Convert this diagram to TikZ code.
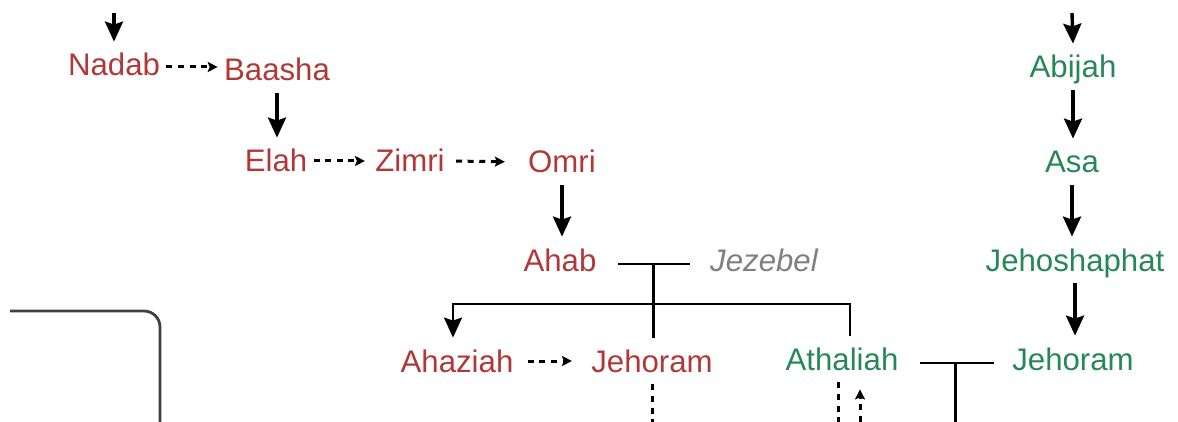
\documentclass[tikz,border=0pt]{standalone}
\usepackage{fontspec}
\setmainfont{Liberation Sans}
\usetikzlibrary{arrows.meta}
\definecolor{israelred}{RGB}{178,56,56}
\definecolor{judahgreen}{RGB}{38,136,88}
\definecolor{wifegray}{RGB}{128,128,128}
\tikzset{every picture/.style={>={Stealth[length=10pt,width=9pt,inset=1.5pt]}},
  king/.style={font=\fontsize{15.6}{18}\selectfont, text height=11pt, text depth=0pt, inner xsep=3pt, inner ysep=6pt},
  israel/.style={king, text=israelred},
  judah/.style={king, text=judahgreen},
  wife/.style={king, text=wifegray, font=\fontsize{15.6}{18}\selectfont\itshape},
  succ/.style={line width=1.7pt, ->},
  bond/.style={line width=1.3pt},
  dashline/.style={line width=1.5pt, dash pattern=on 3pt off 2.8pt},
  usurp/.style={dashline, -{Stealth[length=5pt,width=5pt,inset=1pt]}},
  boxedge/.style={line width=1.4pt, draw=black!75, rounded corners=8pt}}

\begin{document}
\begin{tikzpicture}[x=0.5pt,y=-0.5pt]
  \useasboundingbox (0,0) rectangle (1178,422);
  \coordinate (cut) at (0,422);
  \coordinate (topl) at (114,13);
  \coordinate (topr) at (1072,13);
  \node[israel] (nadab) at (114,65) {Nadab};
  \node[israel] (baasha) at (277,70) {Baasha};
  \node[israel] (elah) at (276,161) {Elah};
  \node[israel] (zimri) at (410,161) {Zimri};
  \node[israel] (omri) at (562,162) {Omri};
  \node[israel] (ahab) at (560,260) {Ahab};
  \node[wife] (jezebel) at (764,260) {Jezebel};
  \node[israel] (ahaziah) at (457,361) {Ahaziah};
  \node[israel] (jehoramA) at (652,361) {Jehoram};
  \node[judah] (athaliah) at (842,359) {Athaliah};
  \node[judah] (abijah) at (1073,67) {Abijah};
  \node[judah] (asa) at (1072,162) {Asa};
  \node[judah] (jehoshaphat) at (1075,260) {Jehoshaphat};
  \node[judah] (jehoramJ) at (1073,359) {Jehoram};
  \draw[succ] (topl) -- (nadab.north);
  \draw[usurp] ([yshift=-1pt]nadab.east) -- ([yshift=-1pt]nadab.east -| baasha.west);
  \draw[succ] (baasha.south) -- (baasha.south |- elah.north);
  \draw[usurp, shorten >=2pt] (elah.east) -- (zimri.west);
  \draw[usurp, shorten <=2.5pt, shorten >=8.5pt] (zimri.east) -- (omri.west);
  \draw[succ] (omri.south) -- (omri.south |- ahab.north);
  \draw[bond, shorten <=7.5pt, shorten >=7pt] ([yshift=-2pt]ahab.east) -- coordinate (ahabjez) ([yshift=-2pt]jezebel.west);
  \draw[bond] (ahabjez) -- (ahabjez |- jehoramA.north);
  \draw[bond, ->] ([xshift=4pt]athaliah.north) |- ([yshift=-20pt]ahabjez) -| ([xshift=-2pt]ahaziah.north);
  \draw[usurp, shorten <=4pt, shorten >=6.5pt] (ahaziah.east) -- (jehoramA.west);
  \draw[dashline] (jehoramA.south) -- (jehoramA.south |- cut);
  \draw[dashline] ([xshift=-2pt]athaliah.south) -- ([xshift=-2pt]athaliah.south |- cut);
  \draw[usurp, shorten >=3.5pt] ([xshift=9pt]athaliah.south |- cut) -- ([xshift=9pt]athaliah.south);
  \draw[bond, shorten <=7.5pt, shorten >=6pt] ([yshift=-2pt]athaliah.east) -- coordinate (athjeh) ([yshift=-2pt]jehoramJ.west);
  \draw[bond] (athjeh) -- (athjeh |- cut);
  \draw[succ] (topr) -- (abijah.north);
  \draw[succ] (abijah.south) -- (abijah.south |- asa.north);
  \draw[succ] (asa.south) -- (asa.south |- jehoshaphat.north);
  \draw[succ] (jehoshaphat.south) -- (jehoshaphat.south |- jehoramJ.north);
  \draw[boxedge] (10,311) -- (160,311) -- (160,422);
\end{tikzpicture}
\end{document}
